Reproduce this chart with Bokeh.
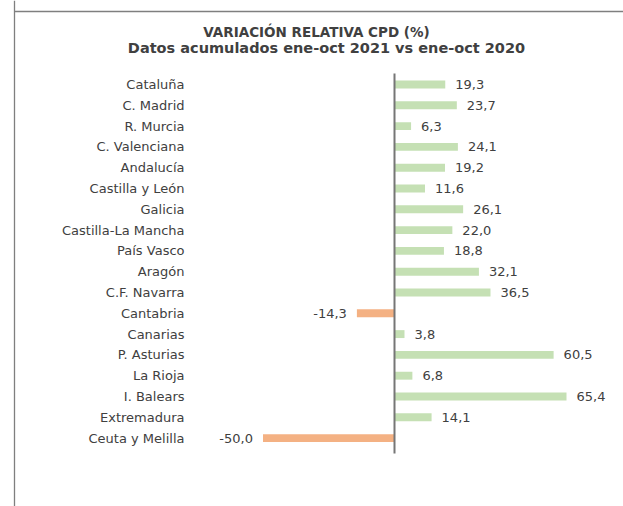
from bokeh.plotting import figure
from bokeh.models import ColumnDataSource, Range1d, Label
from bokeh.core.properties import value
from bokeh.embed import file_html
from bokeh.resources import INLINE

# ---- data ----
regions = ["Cataluña", "C. Madrid", "R. Murcia", "C. Valenciana", "Andalucía",
           "Castilla y León", "Galicia", "Castilla-La Mancha", "País Vasco", "Aragón",
           "C.F. Navarra", "Cantabria", "Canarias", "P. Asturias", "La Rioja",
           "I. Balears", "Extremadura", "Ceuta y Melilla"]
variation = [19.3, 23.7, 6.3, 24.1, 19.2, 11.6, 26.1, 22.0, 18.8, 32.1,
             36.5, -14.3, 3.8, 60.5, 6.8, 65.4, 14.1, -50.0]
title_text = "VARIACIÓN RELATIVA CPD (%)"
subtitle_text = "Datos acumulados ene-oct 2021 vs ene-oct 2020"

# ---- layout constants (pixels) ----
W, H = 623, 506
PX_UNIT = 2.63          # px per percentage point
ZERO_PX = 394           # canvas x of zero line
ROW0_PX = 84            # canvas y of first row
ROW_PX = 20.8           # row spacing
GAP_PX = 10
LABEL_RIGHT_PX = 184

FONT = "DejaVu Sans"
TXT = "#404040"
GREEN = "#C5E0B4"
ORANGE = "#F4B183"

x0 = -ZERO_PX / PX_UNIT
x1 = (W - ZERO_PX) / PX_UNIT
y_top = -ROW0_PX / ROW_PX
y_bot = (H - ROW0_PX) / ROW_PX

rows = list(range(len(regions)))
colors = [GREEN if v >= 0 else ORANGE for v in variation]
gap = GAP_PX / PX_UNIT
lab_x = [v + gap if v >= 0 else v - gap for v in variation]
lab_align = ["left" if v >= 0 else "right" for v in variation]
lab_txt = [f"{v:.1f}".replace(".", ",") for v in variation]
cat_x = [(LABEL_RIGHT_PX - ZERO_PX) / PX_UNIT] * len(regions)

src = ColumnDataSource(dict(y=rows, v=variation, c=colors, lx=lab_x, la=lab_align,
                            lt=lab_txt, cx=cat_x, name=regions))

p = figure(width=W, height=H, output_backend="svg", toolbar_location=None,
           x_range=Range1d(x0, x1), y_range=Range1d(y_bot, y_top),
           min_border=0, x_axis_type=None, y_axis_type=None)
p.outline_line_color = None
p.grid.visible = False
p.background_fill_color = "white"

p.hbar(y="y", left=0, right="v", height=0.38, fill_color="c", line_color=None, source=src)

# zero line
p.segment(x0=[0], y0=[(73 - ROW0_PX) / ROW_PX], x1=[0], y1=[(453 - ROW0_PX) / ROW_PX],
          line_color="#767676", line_width=2)

# frame lines (left and top)
fx = (14 - ZERO_PX) / PX_UNIT
fy = (11 - ROW0_PX) / ROW_PX
p.segment(x0=[fx, fx], y0=[y_bot, fy], x1=[fx, x1], y1=[y_top, fy], line_color="#7f7f7f", line_width=1.3)

p.text(x="lx", y="y", text="lt", text_align="la", text_baseline="middle",
       text_font=value(FONT), text_font_size="13px", text_color=TXT, source=src)
p.text(x="cx", y="y", text="name", text_align="right", text_baseline="middle",
       text_font=value(FONT), text_font_size="13px", text_color=TXT, source=src)

p.add_layout(Label(x=316, y=H - 31, x_units="screen", y_units="screen", text=title_text,
                   text_align="center", text_baseline="middle", text_font=FONT,
                   text_font_size="13.5px", text_font_style="bold", text_color=TXT))
p.add_layout(Label(x=326, y=H - 47, x_units="screen", y_units="screen", text=subtitle_text,
                   text_align="center", text_baseline="middle", text_font=FONT,
                   text_font_size="14.5px", text_font_style="bold", text_color=TXT))

open("out.html", "w").write(file_html(p, INLINE))
